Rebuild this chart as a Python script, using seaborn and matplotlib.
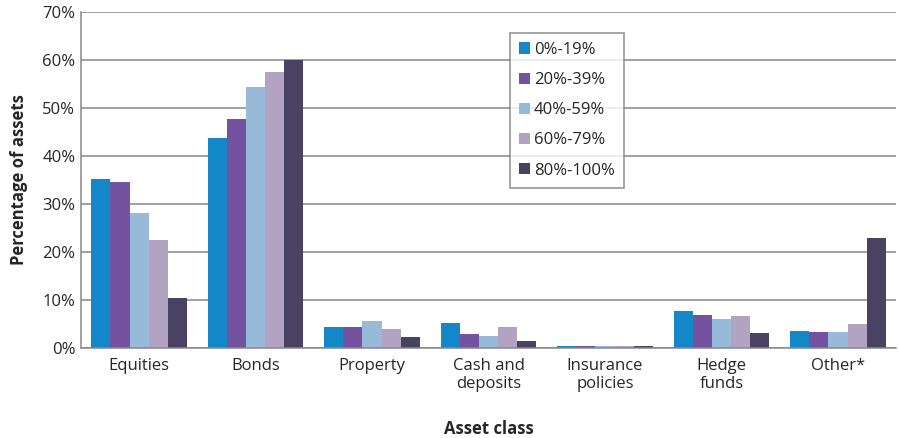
import pandas as pd
import matplotlib.pyplot as plt
import matplotlib.ticker as mticker
import seaborn as sns

# data
categories = ["Equities", "Bonds", "Property", "Cash and\ndeposits",
              "Insurance\npolicies", "Hedge\nfunds", "Other*"]
groups = ["0%-19%", "20%-39%", "40%-59%", "60%-79%", "80%-100%"]
v_0_19 = [35.2, 43.8, 4.4, 5.2, 0.5, 7.7, 3.5]
v_20_39 = [34.6, 47.7, 4.4, 2.9, 0.5, 6.9, 3.3]
v_40_59 = [28.1, 54.4, 5.6, 2.5, 0.5, 6.0, 3.3]
v_60_79 = [22.5, 57.5, 4.0, 4.4, 0.5, 6.7, 5.0]
v_80_100 = [10.4, 60.0, 2.3, 1.5, 0.5, 3.1, 22.9]
colors = ["#1387c8", "#7352a0", "#97bad8", "#b3a3c3", "#4a4263"]

series = [v_0_19, v_20_39, v_40_59, v_60_79, v_80_100]
rows = []
for g, vals in zip(groups, series):
    for c, v in zip(categories, vals):
        rows.append({"Asset class": c, "group": g, "value": v})
df = pd.DataFrame(rows)

sns.set_style("white")
plt.rcParams["font.family"] = ["Open Sans", "DejaVu Sans"]
fs = 12

fig, ax = plt.subplots(figsize=(8.98, 4.38), dpi=100)
fig.subplots_adjust(left=0.090, right=0.998, top=0.973, bottom=0.205)

sns.barplot(data=df, x="Asset class", y="value", hue="group",
            hue_order=groups, palette=colors, width=0.82,
            saturation=1, linewidth=0, ax=ax, legend=True)

ax.set_ylim(0, 70)
ax.set_xlim(-0.5, len(categories) - 0.5)
ax.yaxis.set_major_locator(mticker.MultipleLocator(10))
ax.yaxis.set_major_formatter(mticker.FuncFormatter(lambda v, p: f"{v:.0f}%"))
ax.grid(axis="y", color="#999999", linewidth=1.3)
ax.set_axisbelow(True)

for s in ["top", "right"]:
    ax.spines[s].set_visible(False)
for s in ["left", "bottom"]:
    ax.spines[s].set_color("#888888")
    ax.spines[s].set_linewidth(1.1)

# ticks between categories
ax.xaxis.set_minor_locator(mticker.FixedLocator(
    [i - 0.5 for i in range(len(categories) + 1)]))
ax.tick_params(axis="x", which="major", length=0, labelsize=fs, pad=7)
ax.tick_params(axis="x", which="minor", length=5, width=1.2,
               color="#888888", direction="out")
ax.tick_params(axis="y", length=0, labelsize=fs, pad=4)

ax.set_xlabel("Asset class", fontsize=fs, fontweight="bold", labelpad=20)
ax.set_ylabel("Percentage of assets", fontsize=fs, fontweight="bold", labelpad=10)

handles, labels = ax.get_legend_handles_labels()
leg = ax.legend(handles, labels, loc="upper left",
                bbox_to_anchor=(0.526, 0.938), fontsize=fs,
                frameon=True, fancybox=False, handlelength=0.65,
                handleheight=0.65, handletextpad=0.25, labelspacing=0.85,
                borderpad=0.55, borderaxespad=0, title=None)
leg.get_frame().set_edgecolor("#888888")
leg.get_frame().set_linewidth(1.3)

plt.savefig("out.png", dpi=100)
